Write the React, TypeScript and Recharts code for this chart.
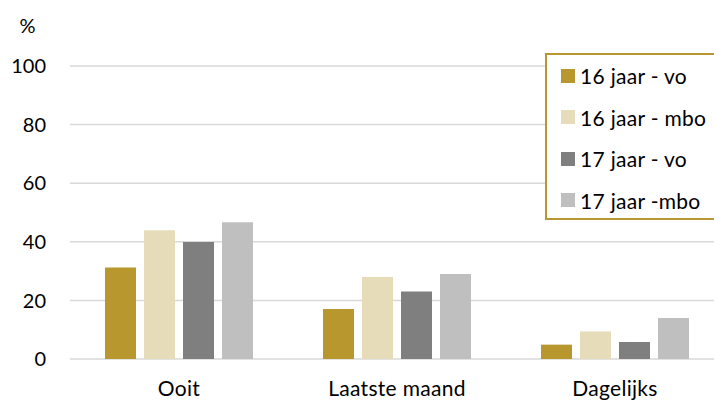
import { BarChart, Bar, XAxis, YAxis, CartesianGrid } from "recharts"

const categories = ["Ooit", "Laatste maand", "Dagelijks"]
const vo16 = [31.2, 17.1, 4.9]
const mbo16 = [43.9, 28.0, 9.4]
const vo17 = [39.9, 23.0, 5.8]
const mbo17 = [46.7, 29.0, 14.0]
const yTicks = [0, 20, 40, 60, 80, 100]

const series = [
  { key: "vo16", name: "16 jaar - vo", color: "#B8972F" },
  { key: "mbo16", name: "16 jaar - mbo", color: "#E6DCBA" },
  { key: "vo17", name: "17 jaar - vo", color: "#7F7F7F" },
  { key: "mbo17", name: "17 jaar -mbo", color: "#BFBFBF" },
]

const data = categories.map((c, i) => ({
  name: c,
  vo16: vo16[i],
  mbo16: mbo16[i],
  vo17: vo17[i],
  mbo17: mbo17[i],
}))

const font = "Lato, 'Open Sans', sans-serif"

function LegendBox() {
  return (
    <div
      style={{
        position: "absolute",
        left: 545,
        top: 53,
        border: "2px solid #B8972F",
        width: 200,
        height: 167,
        boxSizing: "border-box",
        padding: "0 0 0 14px",
        background: "#fff",
        fontFamily: font,
        fontSize: 21,
        letterSpacing: 0.3,
        color: "#000",
      }}
    >
      {series.map((s) => (
        <div key={s.key} style={{ display: "flex", alignItems: "center", height: 41.5 }}>
          <span style={{ width: 14, height: 14, background: s.color, marginRight: 5 }} />
          <span>{s.name}</span>
        </div>
      ))}
    </div>
  )
}

export default function App() {
  return (
    <div style={{ position: "fixed", left: 0, top: 0, width: 714, height: 400, overflow: "hidden", background: "#fff" }}>
      <BarChart
        width={740}
        height={400}
        data={data}
        margin={{ top: 66, right: 16, left: 0, bottom: 1 }}
        barGap={8}
        barCategoryGap={35}
      >
        <CartesianGrid vertical={false} stroke="#D9D9D9" strokeWidth={1.5} />
        <XAxis
          dataKey="name"
          axisLine={false}
          tickLine={false}
          tickSize={0}
          tickMargin={22}
          height={40}
          tick={{ fontSize: 21, fill: "#000", fontFamily: font, letterSpacing: 0.3 }}
        />
        <YAxis
          width={70}
          domain={[0, 100]}
          ticks={yTicks}
          axisLine={false}
          tickLine={false}
          tickSize={0}
          tickMargin={24}
          tick={{ fontSize: 20, fill: "#000", fontFamily: font }}
          label={{
            content: () => (
              <text x={27.5} y={33} textAnchor="middle" fontSize={20} fontFamily={font} fill="#000">
                %
              </text>
            ),
          }}
        />
        {series.map((s) => (
          <Bar key={s.key} dataKey={s.key} name={s.name} fill={s.color} isAnimationActive={false} />
        ))}
      </BarChart>
      <LegendBox />
    </div>
  )
}
